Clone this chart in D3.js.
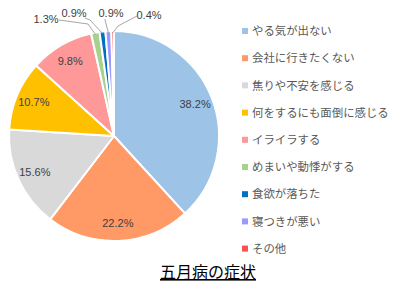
<!DOCTYPE html>
<html>
<head>
<meta charset="utf-8">
<script src="https://d3js.org/d3.v7.min.js"></script>
<style>
  body { margin: 0; background: #fff; }
  svg { display: block; }
</style>
</head>
<body>
<svg id="chart" width="400" height="286"></svg>
<script>
var categories = ["やる気が出ない", "会社に行きたくない", "焦りや不安を感じる", "何をするにも面倒に感じる",
                  "イライラする", "めまいや動悸がする", "食欲が落ちた", "寝つきが悪い", "その他"];
var values = [38.2, 22.2, 15.6, 10.7, 9.8, 1.3, 0.9, 0.9, 0.4];
var colors = ["#9dc3e6", "#ff9966", "#d9d9d9", "#ffc000", "#ff9999", "#a9d18e", "#0070c0", "#9999ff", "#ff5050"];
var title = "五月病の症状";

// outside label spots for the thin slices (index -> [label x, label y, elbow x, elbow y])
var outside = {
    5: [46, 19, 88, 24],
    6: [74, 13, 90, 20],
    7: [111, 13, 105, 20],
    8: [149, 15, 118, 26]
};

var cx = 114, cy = 136, r = 105;
var svg = d3.select("#chart");
var g = svg.append("g").attr("transform", "translate(" + cx + "," + cy + ")");

var pie = d3.pie().sort(null).value(function(d) { return d; });
var arcs = pie(values);
var arc = d3.arc().innerRadius(0).outerRadius(r);
var labelArc = d3.arc().innerRadius(87).outerRadius(87);
var edgeArc = d3.arc().innerRadius(r - 2).outerRadius(r - 2);

g.selectAll("path")
    .data(arcs)
  .enter()
    .append("path")
    .attr("d", arc)
    .attr("fill", function(d, i) { return colors[i]; })
    .attr("stroke", "#fff")
    .attr("stroke-width", 2)
    .attr("stroke-linejoin", "round");

// inside labels
g.selectAll("text.in")
    .data(arcs.filter(function(d) { return d.value >= 5; }))
  .enter()
    .append("text")
    .attr("class", "in")
    .attr("transform", function(d) { return "translate(" + labelArc.centroid(d) + ")"; })
    .attr("text-anchor", "middle")
    .attr("dy", "0.35em")
    .style("font-family", "Liberation Sans, Arial, sans-serif")
    .style("font-size", "11px")
    .attr("fill", "#404040")
    .text(function(d) { return d.value.toFixed(1) + "%"; });

// outside labels with leader lines
arcs.forEach(function(d, i) {
    var o = outside[i];
    if (!o) return;
    var p = edgeArc.centroid(d);
    var pts = [[o[2] - cx, o[3] - cy], p];
    var lx = o[0] - cx, ly = o[1] - cy;
    var start;
    if (i === 5) start = [lx + 13, ly + 1];
    else if (i === 6) start = [lx + 11, ly + 5];
    else if (i === 7) start = [lx - 6, ly + 6];
    else start = [lx - 12, ly + 1];
    g.append("polyline")
        .attr("points", [start].concat(pts).map(function(q) { return q.join(","); }).join(" "))
        .attr("fill", "none")
        .attr("stroke", "#a6a6a6")
        .attr("stroke-width", 1);
    g.append("text")
        .attr("x", lx)
        .attr("y", ly)
        .attr("text-anchor", "middle")
        .attr("dy", "0.35em")
        .style("font-family", "Liberation Sans, Arial, sans-serif")
        .style("font-size", "11px")
        .attr("fill", "#404040")
        .text(d.value.toFixed(1) + "%");
});

// legend
var legend = svg.append("g").attr("transform", "translate(242,31)");
var rows = legend.selectAll("g")
    .data(categories)
  .enter()
    .append("g")
    .attr("transform", function(d, i) { return "translate(0," + (i * 27.2) + ")"; });
rows.append("rect")
    .attr("x", 0)
    .attr("y", -3)
    .attr("width", 6)
    .attr("height", 6)
    .attr("fill", function(d, i) { return colors[i]; });
rows.append("text")
    .attr("x", 10)
    .attr("dy", "0.36em")
    .style("font-family", "Noto Sans CJK JP, sans-serif")
    .style("font-size", "11.4px")
    .attr("fill", "#595959")
    .text(function(d) { return d; });

svg.append("text")
    .attr("x", 208)
    .attr("y", 278)
    .attr("text-anchor", "middle")
    .style("font-family", "Noto Sans CJK JP, sans-serif")
    .style("font-size", "16px")
    .style("text-decoration", "underline")
    .attr("fill", "#000")
    .text(title);
</script>
</body>
</html>
